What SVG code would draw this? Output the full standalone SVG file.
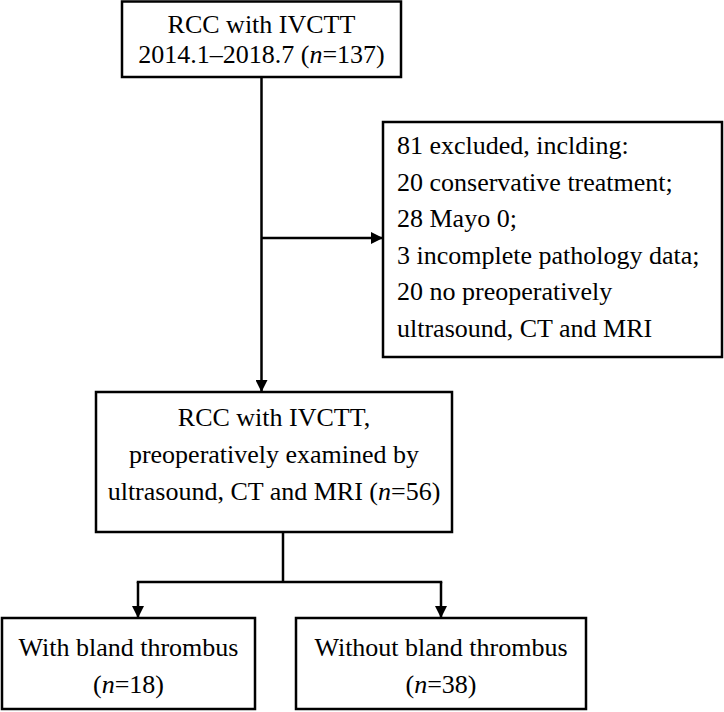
<svg xmlns="http://www.w3.org/2000/svg" width="724" height="712" viewBox="0 0 724 712">
<style>
.box{fill:#fff;stroke:#000;stroke-width:2.5}
.t{font-family:"Liberation Serif","Times New Roman",serif;font-size:26px;fill:#000}
.c{text-anchor:middle}
.ln{fill:none;stroke:#000;stroke-width:2.5}
</style>
<defs>
<marker id="ah" viewBox="0 0 12 12" refX="12" refY="6" markerWidth="12" markerHeight="12" markerUnits="userSpaceOnUse" orient="auto">
<path d="M0,0 L12,6 L0,12 Z" fill="#000"/>
</marker>
</defs>
<g id="connectors">
<line class="ln" x1="261.5" y1="77" x2="261.5" y2="392" marker-end="url(#ah)"/>
<line class="ln" x1="261.5" y1="238" x2="383" y2="238" marker-end="url(#ah)"/>
<line class="ln" x1="283" y1="532" x2="283" y2="582"/>
<line class="ln" x1="136.75" y1="582" x2="442.25" y2="582"/>
<line class="ln" x1="138" y1="582" x2="138" y2="618" marker-end="url(#ah)"/>
<line class="ln" x1="441" y1="582" x2="441" y2="618" marker-end="url(#ah)"/>
</g>
<g id="n1">
<rect class="box" x="122" y="1.5" width="279" height="75.5"/>
<text class="t c" x="261.5" y="33">RCC with IVCTT</text>
<text class="t c" x="261.5" y="63">2014.1–2018.7 (<tspan font-style="italic">n</tspan>=137)</text>
</g>
<g id="n2">
<rect class="box" x="383" y="122" width="339" height="235"/>
<text class="t" x="397" y="154">81 excluded, inclding:</text>
<text class="t" x="397" y="190.5">20 conservative treatment;</text>
<text class="t" x="397" y="227">28 Mayo 0;</text>
<text class="t" x="397" y="263.5">3 incomplete pathology data;</text>
<text class="t" x="397" y="300">20 no preoperatively</text>
<text class="t" x="397" y="336.5">ultrasound, CT and MRI</text>
</g>
<g id="n3">
<rect class="box" x="96" y="392" width="356" height="140"/>
<text class="t c" x="274" y="426">RCC with IVCTT,</text>
<text class="t c" x="274" y="463">preoperatively examined by</text>
<text class="t c" x="274" y="500">ultrasound, CT and MRI (<tspan font-style="italic">n</tspan>=56)</text>
</g>
<g id="n4">
<rect class="box" x="2" y="618" width="253" height="91"/>
<text class="t c" x="128.5" y="656">With bland thrombus</text>
<text class="t c" x="128.5" y="693">(<tspan font-style="italic">n</tspan>=18)</text>
</g>
<g id="n5">
<rect class="box" x="296" y="618" width="290" height="91"/>
<text class="t c" x="441" y="656">Without bland thrombus</text>
<text class="t c" x="441" y="693">(<tspan font-style="italic">n</tspan>=38)</text>
</g>
</svg>
